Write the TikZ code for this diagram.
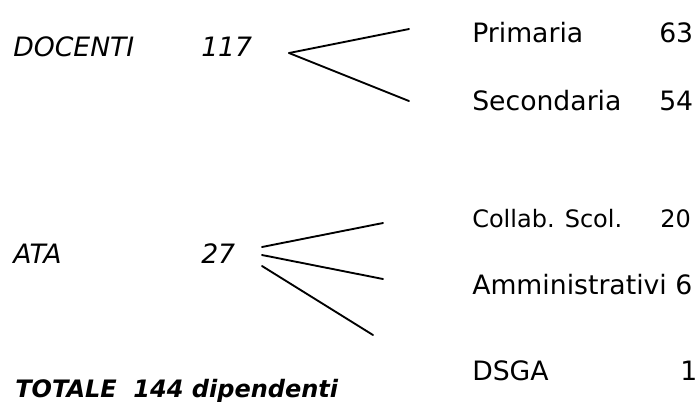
\documentclass[tikz,border=0pt]{standalone}
\usepackage{fontspec}
\setmainfont{DejaVu Sans}[ItalicFont={DejaVu Sans Oblique},BoldFont={DejaVu Sans Bold},BoldItalicFont={DejaVu Sans Bold Oblique}]
\usepackage{tikz}
\usetikzlibrary{positioning}
\usepackage{tkz-euclide}

\tikzset{
	voce/.style={anchor=base west,inner sep=0pt,font=\fontsize{20}{24}\selectfont},
	gruppo/.style={voce,font=\fontsize{20}{24}\selectfont\itshape},
	piccola/.style={voce,font=\fontsize{18}{22}\selectfont},
	ramo/.style={line width=1.4pt,color=black}
}

\begin{document}
\begin{tikzpicture}[x=0.75pt,y=-0.75pt]
	\useasboundingbox (0,0) rectangle (697,405);

% docenti
\node[gruppo] (docenti) at (13,56) {DOCENTI};
\node[gruppo] (ndocenti) at (201,56) {117};
\node[voce] (primaria) at (472,42) {Primaria};
\node[voce] (nprimaria) at (659,42) {63};
\node[voce] (secondaria) at (472,110) {Secondaria};
\node[voce] (nsecondaria) at (659,110) {54};
\tkzDefPoint(289,53){d0}
\tkzDefPoint(409,29){d1} \tkzDrawSegment[ramo](d0,d1)
\tkzDefPoint(409,101){d2} \tkzDrawSegment[ramo](d0,d2)

% ata
\node[gruppo] (ata) at (13,263) {ATA};
\node[gruppo] (nata) at (201,263) {27};
\node[piccola] (collab) at (472,227) {Collab. Scol.};
\node[piccola] (ncollab) at (660,227) {20};
\node[voce] (ammin) at (472,294) {Amministrativi 6};
\node[voce] (dsga) at (472,380) {DSGA};
\node[voce] (ndsga) at (680,380) {1};
\tkzDefPoint(262,247){a0} \tkzDefPoint(383,223){a1} \tkzDrawSegment[ramo](a0,a1)
\tkzDefPoint(262,255){a2} \tkzDefPoint(383,279){a3} \tkzDrawSegment[ramo](a2,a3)
\tkzDefPoint(262,266){a4} \tkzDefPoint(373,335){a5} \tkzDrawSegment[ramo](a4,a5)

% totale
\node[voce,font=\fontsize{18}{22}\selectfont\bfseries\itshape] (totale) at (15,397) {TOTALE\ \ 144 dipendenti};

	\end{tikzpicture}
\end{document}
